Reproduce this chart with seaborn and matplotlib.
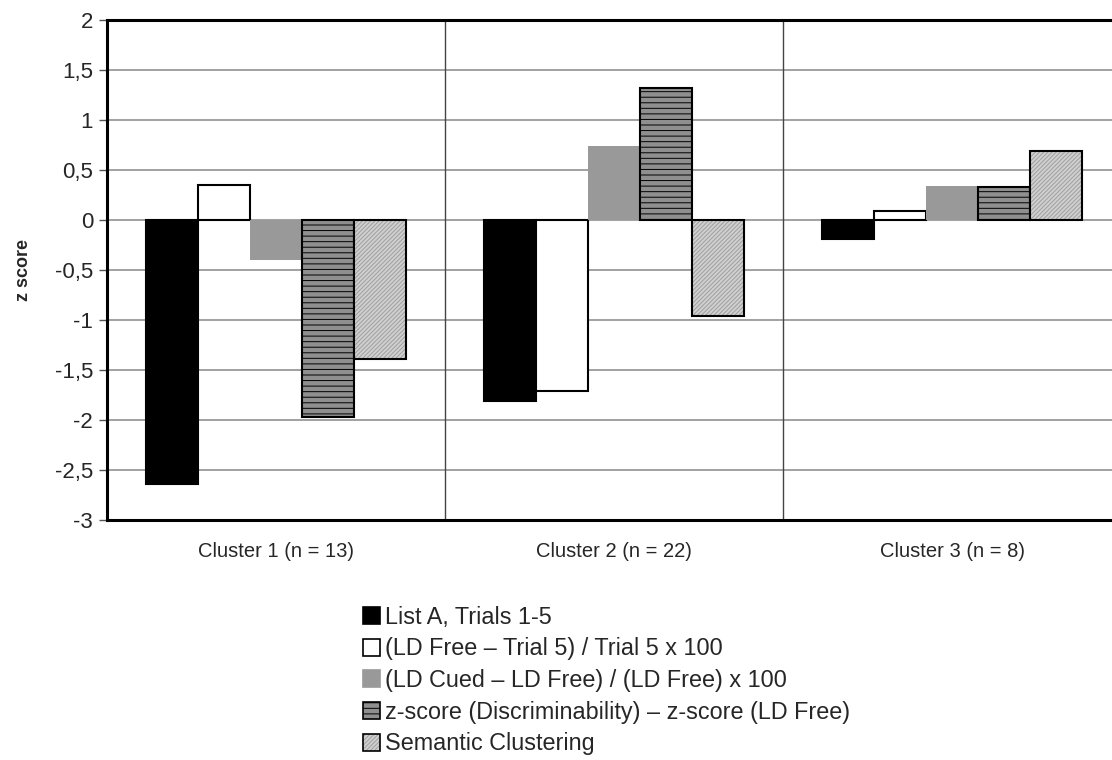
import numpy as np
import pandas as pd
import seaborn as sns
import matplotlib.pyplot as plt
import matplotlib.patches as mpatches
from matplotlib.ticker import FuncFormatter

# values
clusters = ["Cluster 1 (n = 13)", "Cluster 2 (n = 22)", "Cluster 3 (n = 8)"]
measures = [
    "List A, Trials 1-5",
    "(LD Free \u2013 Trial 5) / Trial 5 x 100",
    "(LD Cued \u2013 LD Free) / (LD Free) x 100",
    "z-score (Discriminability) \u2013 z-score (LD Free)",
    "Semantic Clustering",
]
list_a = [-2.64, -1.81, -0.19]
ld_free = [0.35, -1.71, 0.09]
ld_cued = [-0.40, 0.74, 0.34]
discrim = [-1.97, 1.32, 0.33]
semantic = [-1.39, -0.96, 0.69]

df = pd.DataFrame({
    "cluster": clusters * 5,
    "measure": np.repeat(measures, 3),
    "z": list_a + ld_free + ld_cued + discrim + semantic,
})

sns.set_style("white")
plt.rcParams["font.family"] = ["Liberation Sans", "DejaVu Sans"]
plt.rcParams["hatch.linewidth"] = 0.7

fig = plt.figure(figsize=(11.12, 7.6), dpi=100)
ax = fig.add_axes([0.0962, 0.3158, 0.912, 0.658])

sns.barplot(data=df, x="cluster", y="z", hue="measure", order=clusters,
            hue_order=measures, width=0.77, ax=ax, legend=False, zorder=3)

styles = [
    dict(facecolor="black", edgecolor="black", hatch=None, lw=1.5),
    dict(facecolor="white", edgecolor="black", hatch=None, lw=1.5),
    dict(facecolor="#999999", edgecolor="none", hatch=None, lw=0),
    dict(facecolor="#8f8f8f", edgecolor="black", hatch="---", lw=1.5),
    dict(facecolor="#d0d0d0", edgecolor="black", hatch="////////", lw=1.5),
]
for cont, st in zip(ax.containers, styles):
    for bar in cont:
        bar.set_facecolor(st["facecolor"])
        bar.set_edgecolor(st["edgecolor"])
        bar.set_linewidth(st["lw"])
        if st["hatch"]:
            bar.set_hatch(st["hatch"])
light_hatch = (0.62, 0.62, 0.62, 1.0)
for bar in ax.containers[4]:
    bar._hatch_color = light_hatch

ax.set_ylim(-3, 2)
ax.set_xlim(-0.5, 2.5)
ax.set_yticks(np.arange(-3, 2.01, 0.5))
ax.yaxis.set_major_formatter(FuncFormatter(lambda v, p: f"{v:g}".replace(".", ",")))
ax.yaxis.grid(True, color="#9a9a9a", linewidth=1.3, zorder=0)
ax.set_axisbelow(True)
for xv in [0.5, 1.5]:
    ax.axvline(xv, color="#444444", linewidth=1.0, zorder=1)

for side in ["left", "bottom", "top"]:
    ax.spines[side].set_linewidth(2.2)
    ax.spines[side].set_color("black")
ax.spines["right"].set_visible(False)

ax.tick_params(axis="y", direction="out", length=6, width=1, color="#555555",
               labelsize=16, left=True, pad=4)
ax.tick_params(axis="x", length=0, labelsize=14.5, pad=16)
ax.set_xlabel("")
ax.set_ylabel("z score", fontsize=13, fontweight="bold", labelpad=16)

handles = [mpatches.Patch(facecolor=st["facecolor"],
                          edgecolor="#999999" if st["edgecolor"] == "none" else "black",
                          hatch=st["hatch"], linewidth=1.2)
           for st in styles]
handles[4]._hatch_color = light_hatch
fig.legend(handles, measures, loc="upper left", bbox_to_anchor=(0.326, 0.203),
           frameon=False, fontsize=16.8, handlelength=0.75, handleheight=0.75,
           handletextpad=0.2, labelspacing=0.37, borderpad=0, borderaxespad=0)

fig.savefig("out.png", dpi=100)
